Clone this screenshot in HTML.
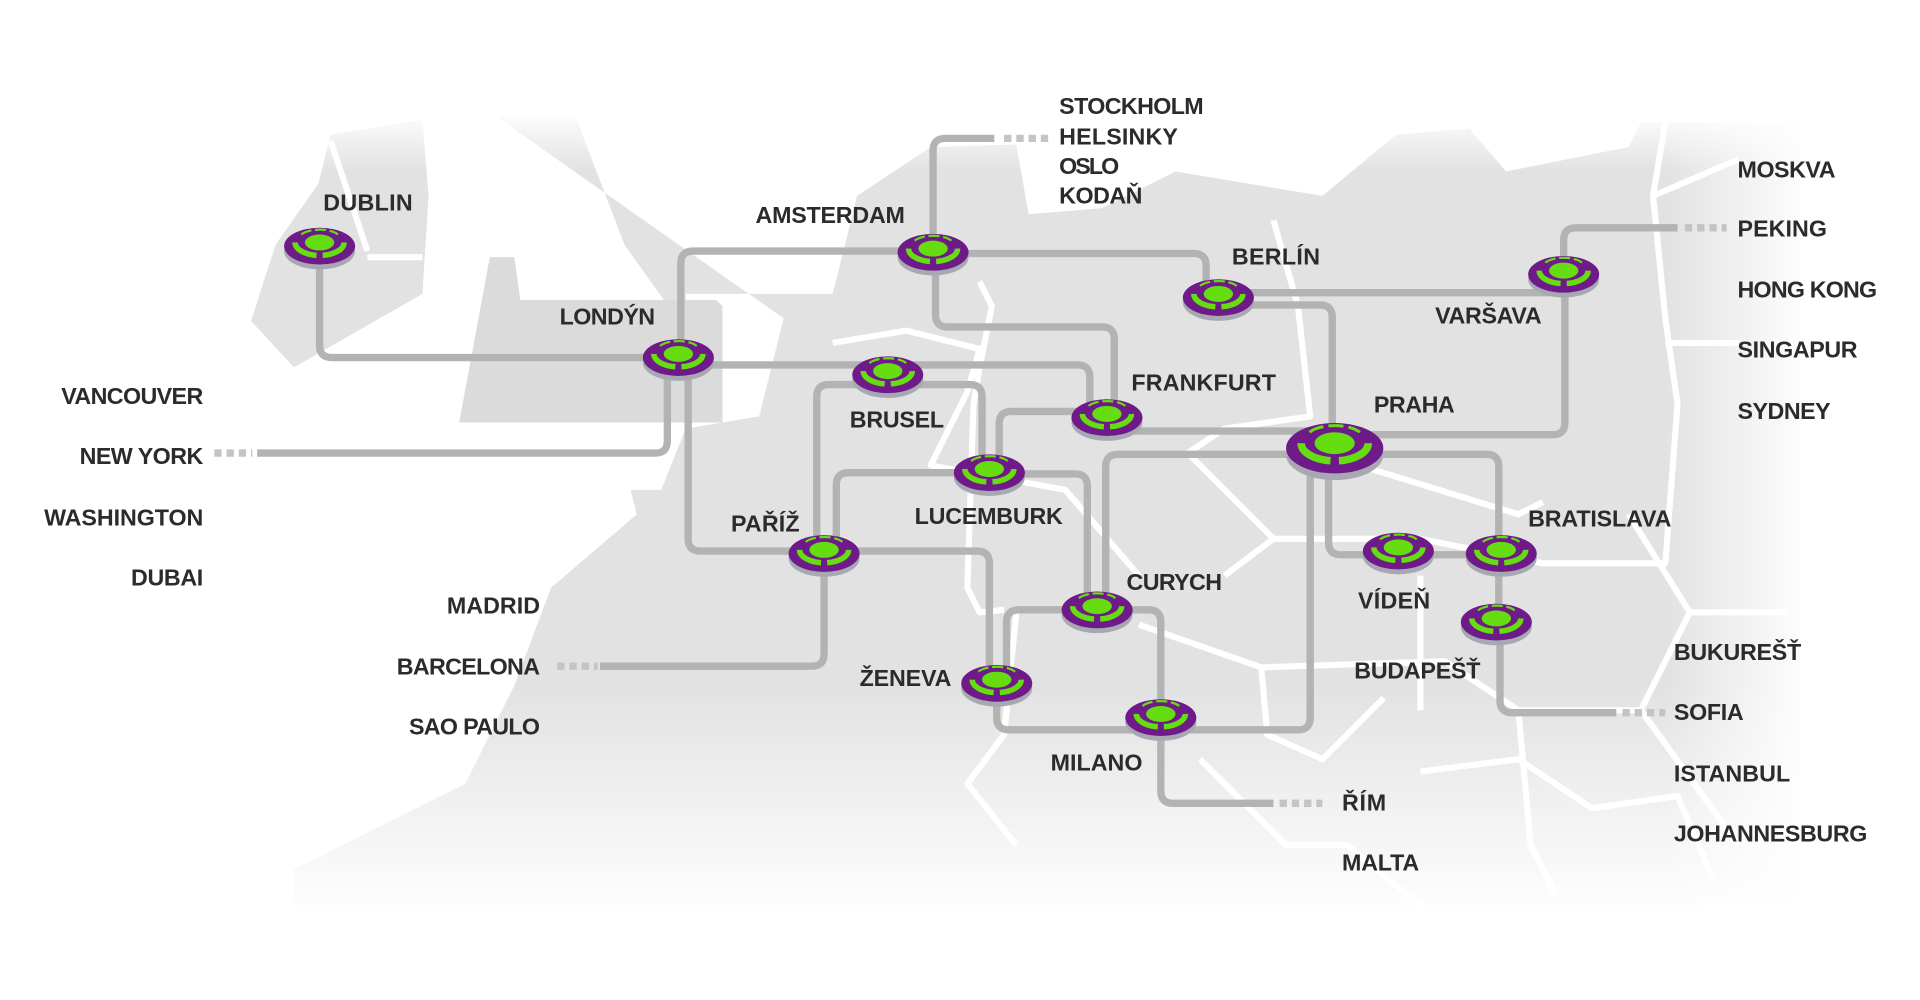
<!DOCTYPE html>
<html><head><meta charset="utf-8"><style>
html,body{margin:0;padding:0;background:#fff;width:1920px;height:1000px;overflow:hidden}
svg{display:block}
text{font-family:"Liberation Sans Narrow","Liberation Sans",sans-serif;font-weight:bold;font-size:19px;fill:#2b2b2b}
</style></head><body>
<svg width="1920" height="1000" viewBox="0 0 1568 816.6" preserveAspectRatio="none">
<defs>
<linearGradient id="fadeB" x1="0" y1="0" x2="0" y2="1">
<stop offset="0" stop-color="#fff" stop-opacity="0"/><stop offset="1" stop-color="#fff" stop-opacity="1"/></linearGradient>
<linearGradient id="fadeR" x1="0" y1="0" x2="1" y2="0">
<stop offset="0" stop-color="#fff" stop-opacity="0"/><stop offset="1" stop-color="#fff" stop-opacity="1"/></linearGradient>
<linearGradient id="fadeT" x1="0" y1="0" x2="0" y2="1">
<stop offset="0" stop-color="#fff" stop-opacity="1"/><stop offset="1" stop-color="#fff" stop-opacity="0"/></linearGradient>
<g id="nd">
<ellipse cx="0" cy="4" rx="29" ry="15" fill="#a8a8b2"/>
<ellipse cx="0" cy="0" rx="29" ry="15" fill="#6e1a89"/>
<ellipse cx="0" cy="-3" rx="12" ry="6.5" fill="#66dd11"/>
<path d="M-20,-3 A20,10.5 0 0 0 -2.5,7.5 M2.5,7.5 A20,10.5 0 0 0 20,-3" fill="none" stroke="#66dd11" stroke-width="4.5"/>
<path d="M-15,-9.5 A17,7.5 0 0 1 15,-9.5" fill="none" stroke="#66dd11" stroke-width="1.8" stroke-dasharray="9 3"/>
</g>
</defs>
<g fill="#e2e2e2">
<path d="M405,95 L470,95 L510,200 L560,270 L560,240 L680,240 L700,160 L760,120 L830,118 L840,175 L900,170 L960,140 L1080,160 L1140,110 L1200,105 L1230,140 L1330,120 L1340,100 L1470,100 L1470,740 L240,740 L240,710 L380,640 L420,560 L450,480 L520,420 L515,400 L540,400 L560,350 L620,340 L640,260 Z"/>
<path d="M270,110 L345,98 L350,160 L345,240 L240,300 L205,262 L225,200 L260,150 Z"/>
</g>
<path d="M405,210 L420,210 L425,245 L585,245 L590,250 L590,345 L375,345 L400,210 Z" fill="#dbdbdb"/>
<g fill="none" stroke="#fff" stroke-width="5" stroke-linejoin="round">
<path d="M300,210 L345,210"/>
<path d="M270,115 L300,205"/>
<path d="M680,280 L740,270 L800,285 L790,320 L760,380 L870,400 L930,470"/>
<path d="M800,230 L810,250 L800,300 L795,330 L790,480 L800,500 L820,498"/>
<path d="M1040,180 L1060,250 L1070,340 L1000,350 L970,370 L1040,440 L1000,470"/>
<path d="M1040,440 L1160,440 L1260,460 L1360,460 L1370,330 L1360,260 L1350,160 L1360,100"/>
<path d="M1350,160 L1420,130"/>
<path d="M1360,280 L1420,280"/>
<path d="M1110,380 L1240,420 L1260,410"/>
<path d="M930,510 L1030,545 L1180,540 L1240,580 L1340,580 L1380,500 L1460,500"/>
<path d="M1030,545 L1035,600 L1080,620 L1130,570"/>
<path d="M1240,580 L1250,690 L1270,730"/>
<path d="M1160,470 L1160,580"/>
<path d="M830,500 L820,600 L790,640 L830,690"/>
<path d="M980,620 L1050,690 L1100,690 L1160,740"/>
<path d="M1160,630 L1240,620 L1300,660 L1370,650 L1400,720"/>
<path d="M1340,580 L1420,690"/>
<path d="M1380,500 L1330,420"/>
</g>
<rect x="0" y="560" width="1568" height="190" fill="url(#fadeB)"/>
<rect x="0" y="740" width="1568" height="80" fill="#fff"/>
<rect x="1360" y="0" width="120" height="820" fill="url(#fadeR)"/>
<rect x="1480" y="0" width="100" height="820" fill="#fff"/>
<rect x="0" y="90" width="1568" height="50" fill="url(#fadeT)"/>
<g fill="none" stroke="#b3b3b3" stroke-width="6" stroke-linejoin="round">
<path d="M261,201 V282 Q261,292 271,292 H554"/>
<path d="M545,292 V360 Q545,370 535,370 H210"/>
<path d="M556,292 V215 Q556,205 566,205 H762"/>
<path d="M762,207 H975 Q985,207 985,217 V243"/>
<path d="M762,206 V123 Q762,113 772,113 H812"/>
<path d="M764,206 V257 Q764,267 774,267 H900 Q910,267 910,277 V341"/>
<path d="M554,298 H880 Q890,298 890,308 V341"/>
<path d="M562,292 V440 Q562,450 572,450 H673"/>
<path d="M673,452 V534 Q673,544 663,544 H490"/>
<path d="M673,450 H798 Q808,450 808,460 V558"/>
<path d="M725,314 H677 Q667,314 667,324 V452"/>
<path d="M725,314 H792 Q802,314 802,324 V386"/>
<path d="M683,452 V396 Q683,386 693,386 H808"/>
<path d="M808,387 H878 Q888,387 888,397 V498"/>
<path d="M816,386 V346 Q816,336 826,336 H904"/>
<path d="M904,352 H1090"/>
<path d="M1090,355 H1268 Q1278,355 1278,345 V224"/>
<path d="M1277,224 V196 Q1277,186 1287,186 H1370"/>
<path d="M995,239 H1277"/>
<path d="M995,249 H1078 Q1088,249 1088,259 V366"/>
<path d="M1090,371 H913 Q903,371 903,381 V498"/>
<path d="M1090,371 H1214 Q1224,371 1224,381 V452"/>
<path d="M1085,366 V443 Q1085,453 1095,453 H1226"/>
<path d="M1224,452 V508"/>
<path d="M1225,508 V572 Q1225,582 1235,582 H1320"/>
<path d="M1070,366 V586 Q1070,596 1060,596 H948"/>
<path d="M814,558 V586 Q814,596 824,596 H948"/>
<path d="M896,498 H832 Q822,498 822,508 V558"/>
<path d="M896,498 H938 Q948,498 948,508 V586"/>
<path d="M948,586 V646 Q948,656 958,656 H1040"/>
</g>
<g stroke="#c4c4c4" stroke-width="6" stroke-dasharray="6 4">
<path d="M175,370 H206"/><path d="M455,544 H488"/><path d="M820,113 H856"/>
<path d="M1376,186 H1410"/><path d="M1325,582 H1360"/><path d="M1045,656 H1080"/>
</g>
<use href="#nd" x="261" y="201"/><use href="#nd" x="554" y="292"/>
<use href="#nd" x="762" y="206"/><use href="#nd" x="995" y="243"/>
<use href="#nd" x="1277" y="224"/><use href="#nd" x="725" y="306"/>
<use href="#nd" x="904" y="341"/><use href="#nd" x="808" y="386"/>
<use href="#nd" x="673" y="452"/><use href="#nd" x="896" y="498"/>
<use href="#nd" x="814" y="558"/><use href="#nd" x="948" y="586"/>
<use href="#nd" x="1142" y="450"/><use href="#nd" x="1226" y="452"/>
<use href="#nd" x="1222" y="508"/>
<use href="#nd" transform="translate(1090,366) scale(1.37)"/>
<g lengthAdjust="spacingAndGlyphs">
<text x="865" y="93" textLength="118">STOCKHOLM</text>
<text x="865" y="118" textLength="97">HELSINKY</text>
<text x="865" y="142" textLength="49">OSLO</text>
<text x="865" y="166" textLength="68">KODAŇ</text>
<text x="617" y="182" textLength="122">AMSTERDAM</text>
<text x="264" y="172" textLength="73">DUBLIN</text>
<text x="1006" y="216" textLength="72">BERLÍN</text>
<text x="457" y="265" textLength="78">LONDÝN</text>
<text x="1419" y="145" textLength="80">MOSKVA</text>
<text x="1419" y="193" textLength="73">PEKING</text>
<text x="1419" y="243" textLength="114">HONG KONG</text>
<text x="1419" y="292" textLength="98">SINGAPUR</text>
<text x="1419" y="342" textLength="76">SYDNEY</text>
<text x="1172" y="264" textLength="87">VARŠAVA</text>
<text x="924" y="319" textLength="118">FRANKFURT</text>
<text x="1122" y="337" textLength="66">PRAHA</text>
<text x="694" y="349" textLength="77">BRUSEL</text>
<text x="50" y="330" textLength="116">VANCOUVER</text>
<text x="65" y="379" textLength="101">NEW YORK</text>
<text x="36" y="429" textLength="130">WASHINGTON</text>
<text x="107" y="478" textLength="59">DUBAI</text>
<text x="747" y="428" textLength="121">LUCEMBURK</text>
<text x="597" y="434" textLength="56">PAŘÍŽ</text>
<text x="1248" y="430" textLength="117">BRATISLAVA</text>
<text x="920" y="482" textLength="78">CURYCH</text>
<text x="1109" y="497" textLength="59">VÍDEŇ</text>
<text x="365" y="501" textLength="76">MADRID</text>
<text x="324" y="551" textLength="117">BARCELONA</text>
<text x="334" y="600" textLength="107">SAO PAULO</text>
<text x="1367" y="539" textLength="104">BUKUREŠŤ</text>
<text x="1367" y="588" textLength="57">SOFIA</text>
<text x="1367" y="638" textLength="95">ISTANBUL</text>
<text x="1367" y="687" textLength="158">JOHANNESBURG</text>
<text x="1106" y="554" textLength="103">BUDAPEŠŤ</text>
<text x="702" y="560" textLength="75">ŽENEVA</text>
<text x="858" y="629" textLength="75">MILANO</text>
<text x="1096" y="662" textLength="36">ŘÍM</text>
<text x="1096" y="711" textLength="63">MALTA</text>
</g>
</svg>
</body></html>
